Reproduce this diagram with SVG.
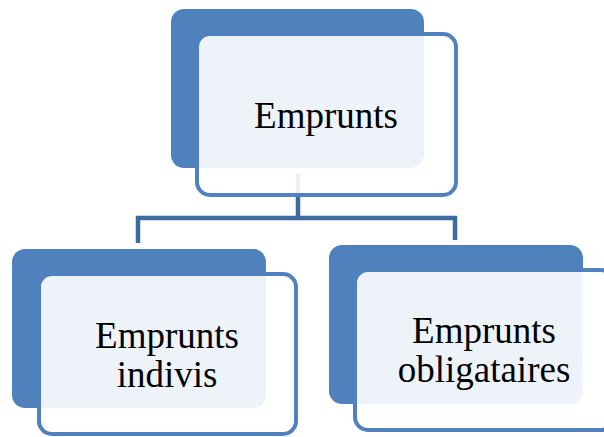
<svg xmlns="http://www.w3.org/2000/svg" width="604" height="437" viewBox="0 0 604 437">
<style>
.back{fill:#4f81bd}
.front{fill:#ffffff;fill-opacity:0.9;stroke:#4f81bd;stroke-width:4}
.lbl{font-family:"Liberation Serif","Times New Roman",serif;font-size:37px;fill:#000;text-anchor:middle}
.conn{fill:none;stroke:#3e6c9f;stroke-width:4.5}
</style>
<rect width="604" height="437" fill="#fff"/>
<g id="connectors">
<path class="conn" d="M298 174 V218 M138 243 V218 H455 V240"/>
</g>
<g id="node-emprunts">
<rect class="back" x="171" y="9" width="253" height="159" rx="13"/>
<rect class="front" x="197" y="34" width="259" height="161" rx="13"/>
<text class="lbl" x="326" y="128">Emprunts</text>
</g>
<g id="node-indivis">
<rect class="back" x="12" y="249" width="254" height="159" rx="13"/>
<rect class="front" x="39" y="274" width="257" height="160" rx="13"/>
<text class="lbl" x="167" y="348">Emprunts</text>
<text class="lbl" x="167" y="387">indivis</text>
</g>
<g id="node-obligataires">
<rect class="back" x="329" y="245" width="254" height="159" rx="13"/>
<rect class="front" x="355" y="270" width="259" height="160" rx="13"/>
<text class="lbl" x="484" y="343">Emprunts</text>
<text class="lbl" x="484" y="382">obligataires</text>
</g>
</svg>
